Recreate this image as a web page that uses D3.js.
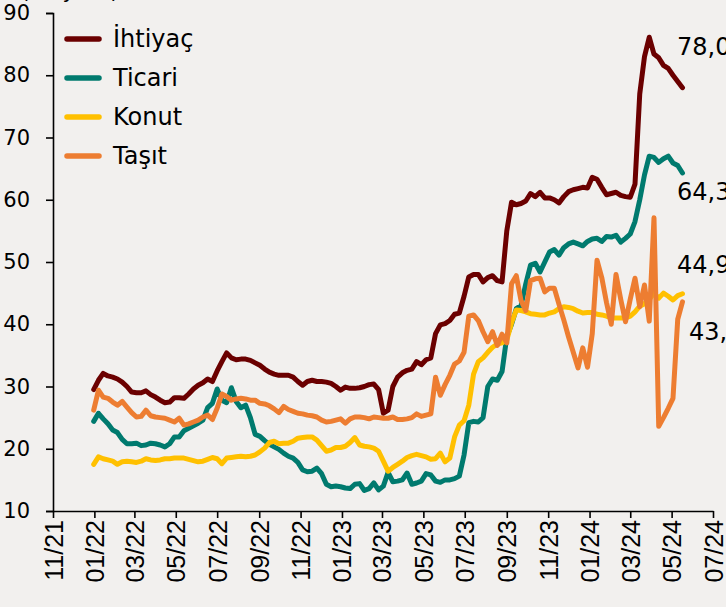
<!DOCTYPE html>
<html>
<head>
<meta charset="utf-8">
<script src="https://cdn.jsdelivr.net/npm/d3@7"></script>
<style>
  body { margin: 0; background: #f2f0ee; }
  svg { display: block; }
  .axis text { font-family: "DejaVu Sans"; font-size: 21px; fill: #000; }
  .xaxis text { font-family: "Liberation Sans"; font-size: 25px; }
  .legend text, .endlabel { font-family: "DejaVu Sans"; font-size: 24px; fill: #000; }
  .unit { font-family: "DejaVu Sans"; font-size: 21px; fill: #000; }
</style>
</head>
<body>
<div id="chart"></div>
<script>
// weekly observations, first week ending 31.12.2021
var firstWeek = new Date(2021, 11, 31);
var seriesNames = ['İhtiyaç', 'Ticari', 'Konut', 'Taşıt'];
var endLabels = ['78,0', '64,3', '44,9', '43,6'];
var yTicks = [10, 20, 30, 40, 50, 60, 70, 80, 90];

var ihtiyac = [
  29.5, 31.0, 32.1, 31.7, 31.5, 31.2, 30.7, 30.0, 29.1, 29.0,
  29.0, 29.3, 28.7, 28.3, 27.8, 27.4, 27.5, 28.2, 28.2, 28.1,
  28.8, 29.6, 30.2, 30.6, 31.2, 30.8, 32.5, 34.0, 35.4, 34.6,
  34.3, 34.4, 34.4, 34.2, 33.8, 33.4, 32.8, 32.3, 32.0, 31.8,
  31.8, 31.8, 31.5, 30.8, 30.2, 30.8, 31.0, 30.8, 30.8, 30.7,
  30.5, 30.0, 29.4, 29.9, 29.7, 29.7, 29.8, 30.0, 30.3, 30.4,
  29.5, 25.7, 26.2, 30.0, 31.5, 32.2, 32.6, 32.8, 34.0, 33.5,
  34.3, 34.6, 38.5, 39.9, 40.1, 40.6, 41.6, 41.8, 44.5, 47.6,
  48.0, 48.0, 46.8, 47.5, 47.8, 47.0, 46.8, 55.0, 59.6, 59.2,
  59.4, 59.8, 61.0, 60.5, 61.2, 60.3, 60.3, 60.0, 59.5, 60.5,
  61.3, 61.6, 61.8, 62.0, 61.9, 63.6, 63.3, 62.0, 60.8, 61.0,
  61.2, 60.7, 60.5, 60.4, 62.5, 77.0, 83.0, 86.1, 83.4, 82.8,
  81.6, 81.1, 80.0, 79.0, 78.0
];
var ticari = [
  24.4, 25.7, 24.8, 24.0, 23.0, 22.6, 21.5, 20.8, 20.8, 20.9,
  20.5, 20.6, 20.9, 20.8, 20.6, 20.3, 20.8, 21.9, 21.9, 22.9,
  23.3, 23.7, 24.1, 24.6, 26.6, 27.3, 29.6, 27.8, 27.4, 29.8,
  27.6, 26.6, 27.0, 25.0, 22.3, 22.0, 21.3, 20.7, 20.3, 19.9,
  19.3, 18.8, 18.5, 17.8, 16.6, 16.3, 16.4, 16.9, 16.0, 14.3,
  13.9, 14.0, 13.9, 13.7, 13.6, 14.3, 14.4, 13.3, 13.6, 14.5,
  13.4, 14.0, 16.2, 14.7, 14.8, 15.0, 16.1, 14.3, 14.5, 14.8,
  16.0, 15.8, 14.8, 14.6, 15.0, 15.0, 15.2, 15.6, 19.0, 24.2,
  24.4, 24.3, 25.0, 30.0, 31.2, 31.0, 32.4, 38.0, 40.0, 42.5,
  43.0, 46.5, 49.5, 49.8, 48.4, 50.0, 51.6, 52.0, 51.1, 52.3,
  52.9, 53.2, 52.9, 52.6, 53.3, 53.7, 53.8, 53.3, 54.1, 54.0,
  54.3, 53.2, 53.8, 54.5, 56.5, 60.0, 64.0, 67.0, 66.8, 66.0,
  66.6, 67.0, 65.9, 65.5, 64.3
];
var konut = [
  17.5, 18.7, 18.4, 18.2, 18.0, 17.5, 17.9, 18.0, 17.9, 17.8,
  18.0, 18.4, 18.2, 18.1, 18.2, 18.4, 18.4, 18.5, 18.5, 18.5,
  18.3, 18.1, 17.9, 18.0, 18.3, 18.6, 18.4, 17.6, 18.5, 18.6,
  18.7, 18.8, 18.7, 18.8, 19.0, 19.5, 20.1, 21.0, 21.2, 20.8,
  20.9, 20.9, 21.2, 21.7, 21.8, 21.9, 21.9, 21.4, 20.5, 19.6,
  19.8, 20.2, 20.2, 20.4, 21.0, 21.8, 20.6, 20.4, 20.3, 20.1,
  19.6, 18.0, 16.4, 17.0, 17.5, 18.0, 18.6, 18.9, 19.1, 18.9,
  18.7, 18.3, 18.4, 19.3, 17.9, 18.5, 21.9, 23.8, 24.5, 27.0,
  32.0, 34.0, 34.6, 35.5, 36.3, 36.8, 37.0, 37.5, 40.2, 42.3,
  42.2, 42.0, 41.7, 41.6, 41.5, 41.5, 41.8, 42.0, 42.5, 42.8,
  42.7, 42.5, 42.1, 41.8, 41.9, 41.9, 41.6, 41.5, 41.3, 41.0,
  41.0, 41.0, 41.0, 41.3, 42.0, 42.9, 43.3, 44.0, 45.0, 44.2,
  45.0, 44.5, 43.9, 44.6, 44.9
];
var tasit = [
  26.2, 29.4, 28.3, 28.1, 27.5, 27.0, 27.6, 26.7, 25.8, 25.1,
  25.2, 26.2, 25.3, 25.1, 25.0, 24.9, 24.6, 24.3, 24.9, 23.8,
  24.0, 24.3, 24.6, 25.1, 25.4, 24.7, 26.5, 28.8, 28.4, 27.8,
  28.0, 28.1, 28.0, 27.8, 27.8, 27.3, 27.2, 26.9, 26.4, 25.8,
  26.8, 26.3, 26.0, 25.7, 25.6, 25.4, 25.3, 25.1, 24.6, 24.3,
  24.4, 24.6, 24.8, 24.1, 24.8, 25.1, 25.1, 25.0, 24.8, 25.1,
  25.0, 24.9, 24.9, 25.1, 24.7, 24.7, 24.8, 25.0, 25.6, 25.2,
  25.4, 25.6, 31.5, 28.6, 30.3, 31.8, 33.6, 34.1, 35.5, 41.3,
  41.5, 40.6, 38.8, 37.2, 38.8, 36.6, 38.4, 37.0, 46.5, 47.8,
  43.8, 42.2, 47.0, 47.3, 47.4, 45.2, 45.8, 45.8, 43.2, 40.7,
  38.0, 35.5, 33.0, 36.2, 33.1, 38.5, 50.3, 47.5, 43.5, 40.0,
  48.0, 44.0, 40.4, 44.0, 47.4, 42.8, 46.3, 40.5, 57.1, 23.6,
  25.0, 26.5, 28.1, 40.8, 43.6
];

var colors = ['#6b0000', '#007a6e', '#ffc000', '#ed7d31'];
var seriesValues = [ihtiyac, ticari, konut, tasit];

var width = 726, height = 607;
var svg = d3.select('#chart').append('svg')
  .attr('width', width)
  .attr('height', height);

var weeks = ihtiyac.map(function (d, i) { return d3.timeDay.offset(firstWeek, 7 * i); });

var xScale = d3.scaleTime()
  .domain([new Date(2021, 10, 1), new Date(2024, 6, 1)])
  .range([53, 713]);
var yScale = d3.scaleLinear()
  .domain([10, 90])
  .range([511, 13]);

// Unit title, mostly above the visible area
svg.append('text')
  .attr('class', 'unit')
  .attr('x', 21)
  .attr('y', -2)
  .text('(%, yıllık)');

// Y axis
var yAxis = d3.axisLeft(yScale)
  .tickValues(yTicks)
  .tickSize(7)
  .tickPadding(16)
  .tickFormat(d3.format('d'));
svg.append('g')
  .attr('class', 'axis')
  .attr('transform', 'translate(53,0)')
  .call(yAxis)
  .call(function (g) { g.select('.domain').attr('stroke', '#000').attr('stroke-width', 1.6); })
  .call(function (g) { g.selectAll('.tick line').attr('stroke-width', 1.6); });

// X axis
var xAxis = d3.axisBottom(xScale)
  .ticks(d3.timeMonth.every(2))
  .tickSize(7)
  .tickSizeOuter(0)
  .tickFormat(d3.timeFormat('%m/%y'));
var xg = svg.append('g')
  .attr('class', 'axis xaxis')
  .attr('transform', 'translate(0,511)')
  .call(xAxis);
xg.select('.domain').attr('stroke', '#000').attr('stroke-width', 1.6);
xg.selectAll('.tick line').attr('stroke-width', 1.6);
xg.selectAll('.tick text')
  .attr('transform', 'rotate(-90)')
  .attr('text-anchor', 'end')
  .attr('x', -9)
  .attr('y', 0)
  .attr('dy', '0.36em');

// Lines
var line = d3.line()
  .x(function (d, i) { return xScale(weeks[i]); })
  .y(function (d) { return yScale(d); });

seriesValues.forEach(function (vals, k) {
  svg.append('path')
    .datum(vals)
    .attr('fill', 'none')
    .attr('stroke', colors[k])
    .attr('stroke-width', 5)
    .attr('stroke-linejoin', 'round')
    .attr('stroke-linecap', 'round')
    .attr('d', line);
});

// End labels (cut at the right edge as in the source)
var endY = [55, 200, 273, 340];
var endX = [677, 677, 677, 689];
endLabels.forEach(function (t, k) {
  svg.append('text')
    .attr('class', 'endlabel')
    .attr('x', endX[k])
    .attr('y', endY[k])
    .text(t);
});

// Legend
var legend = svg.append('g').attr('class', 'legend');
seriesNames.forEach(function (name, k) {
  var ly = 39 + k * 39;
  legend.append('line')
    .attr('x1', 67).attr('x2', 99)
    .attr('y1', ly).attr('y2', ly)
    .attr('stroke', colors[k])
    .attr('stroke-width', 5.5)
    .attr('stroke-linecap', 'round');
  legend.append('text')
    .attr('x', 113)
    .attr('y', ly + 8)
    .text(name);
});
</script>
</body>
</html>
